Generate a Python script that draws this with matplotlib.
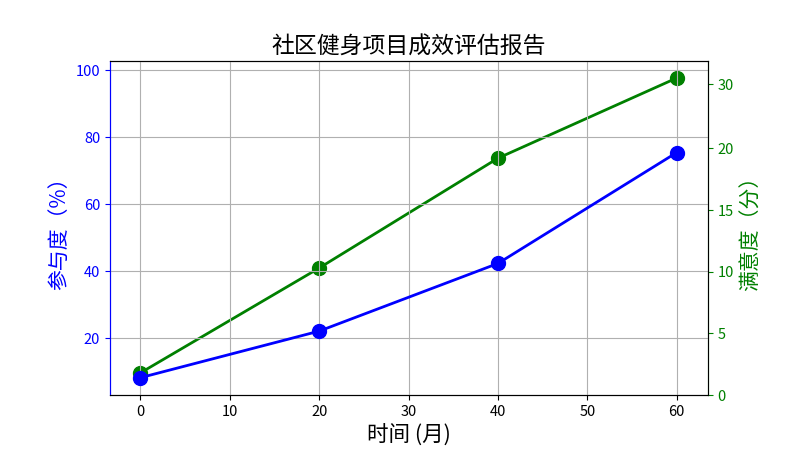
import matplotlib
matplotlib.use("Agg")
import matplotlib.pyplot as plt
import numpy as np

plt.rcParams['font.family'] = ['Noto Sans CJK SC', 'DejaVu Sans']

# data
months = [0, 20, 40, 60]
participation = [8.2, 22.1, 42.3, 75.4]   # 参与度 (%)
satisfaction = [1.8, 10.3, 19.2, 31.0]    # 满意度 (分)
sat_ticks = [0, 5, 10, 15, 20, 30]

# the right axis in the reference is compressed above 20
K = 0.518


def fwd(v):
    v = np.asarray(v, dtype=float)
    return np.where(v <= 20, v, 20 + (v - 20) * K)


def inv(v):
    v = np.asarray(v, dtype=float)
    return np.where(v <= 20, v, 20 + (v - 20) / K)


fig, ax = plt.subplots(figsize=(8, 4.5), dpi=100)
fig.subplots_adjust(left=0.1375, right=0.885, bottom=0.122, top=0.865)

ax.plot(months, participation, color='blue', marker='o', markersize=10, linewidth=2, zorder=3)
ax.set_ylim(3, 102.8)
ax.set_yticks([20, 40, 60, 80, 100])
ax.set_xticks([0, 10, 20, 30, 40, 50, 60])
ax.set_xlim(-3.4, 63.5)
ax.grid(True, color='#b0b0b0', linewidth=0.8)
ax.tick_params(axis='y', colors='blue', labelsize=10.5)
ax.tick_params(axis='x', labelsize=10.5)
ax.spines['left'].set_color('blue')
ax.set_xlabel('时间 (月)', fontsize=15.5)
ax.set_ylabel('参与度（%）', fontsize=15, color='blue')
ax.set_title('社区健身项目成效评估报告', fontsize=16.5, pad=5)

ax2 = ax.twinx()
ax2.set_yscale('function', functions=(fwd, inv))
ax2.plot(months, satisfaction, color='green', marker='o', markersize=10, linewidth=2, zorder=3)
ax2.set_ylim(0, 33.7)
ax2.set_yticks(sat_ticks)
ax2.set_yticklabels([str(t) for t in sat_ticks])
ax2.tick_params(axis='y', colors='green', labelsize=10.5)
ax2.spines['right'].set_color('green')
ax2.spines['left'].set_color('blue')
ax2.set_ylabel('满意度（分）', fontsize=15, color='green')

# blue series sits on top of the green one in the reference
ax.set_zorder(ax2.get_zorder() + 1)
ax.patch.set_visible(False)

fig.savefig('out.png', dpi=100)
